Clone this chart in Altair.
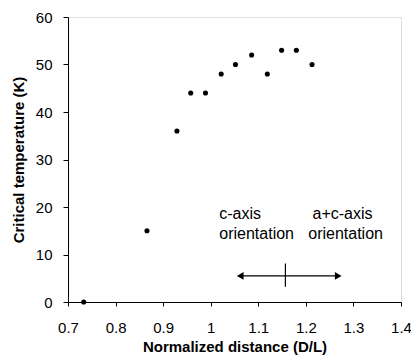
import altair as alt
import pandas as pd

# Data
distance = [0.733, 0.866, 0.929, 0.958, 0.989, 1.022, 1.052, 1.086, 1.119, 1.149, 1.180, 1.213]
tc = [0, 15, 36, 44, 44, 48, 50, 52, 48, 53, 53, 50]

x_ticks = [0.7, 0.8, 0.9, 1.0, 1.1, 1.2, 1.3, 1.4]
y_ticks = [0, 10, 20, 30, 40, 50, 60]

arrow_x = [1.062, 1.268]
arrow_y = 5.5
divider_x = 1.157
divider_y = [3.2, 8.1]

label_text = ["c-axis", "orientation", "a+c-axis", "orientation"]
label_x = [1.018, 1.018, 1.214, 1.205]
label_y = [17.4, 13.2, 17.4, 13.2]

FONT = "Liberation Sans"

df = pd.DataFrame({"d": distance, "tc": tc})

xs = alt.Scale(domain=[0.7, 1.4], nice=False, zero=False)
ys = alt.Scale(domain=[0, 60], nice=False)

xaxis = alt.Axis(values=x_ticks, title="Normalized distance (D/L)", grid=False,
                 labelExpr="datum.value == 1 ? '1' : format(datum.value, '.1f')",
                 tickSize=4, labelPadding=14, titlePadding=4,
                 labelFontSize=15, titleFontSize=15, titleFontWeight="bold",
                 labelFont=FONT, titleFont=FONT, domainColor="black", tickColor="black",
                 labelColor="black", titleColor="black", labelFlush=False)
yaxis = alt.Axis(values=y_ticks, title="Critical temperature (K)", grid=False,
                 tickSize=5, labelPadding=11, titlePadding=9,
                 labelFontSize=15, titleFontSize=15, titleFontWeight="bold",
                 labelFont=FONT, titleFont=FONT, domainColor="black", tickColor="black",
                 labelColor="black", titleColor="black")

points = alt.Chart(df).mark_circle(size=26, color="black", opacity=1).encode(
    x=alt.X("d:Q", scale=xs, axis=xaxis),
    y=alt.Y("tc:Q", scale=ys, axis=yaxis),
)

arrow_df = pd.DataFrame({"x1": [arrow_x[0]], "x2": [arrow_x[1]], "y": [arrow_y]})
arrow_line = alt.Chart(arrow_df).mark_rule(color="black", strokeWidth=1.2).encode(
    x=alt.X("x1:Q", scale=xs), x2="x2:Q", y=alt.Y("y:Q", scale=ys))

heads_df = pd.DataFrame({"x": arrow_x, "y": [arrow_y, arrow_y],
                         "shape": ["triangle-left", "triangle-right"]})
heads = alt.Chart(heads_df).mark_point(filled=True, size=60, color="black", opacity=1).encode(
    x=alt.X("x:Q", scale=xs), y=alt.Y("y:Q", scale=ys),
    shape=alt.Shape("shape:N", scale=None))

div_df = pd.DataFrame({"x": [divider_x], "y1": [divider_y[0]], "y2": [divider_y[1]]})
divider = alt.Chart(div_df).mark_rule(color="black", strokeWidth=1.2).encode(
    x=alt.X("x:Q", scale=xs), y=alt.Y("y1:Q", scale=ys), y2="y2:Q")

lab_df = pd.DataFrame({"t": label_text, "x": label_x, "y": label_y})
labels = alt.Chart(lab_df).mark_text(align="left", baseline="alphabetic", fontSize=16,
                                     font=FONT, color="black").encode(
    x=alt.X("x:Q", scale=xs), y=alt.Y("y:Q", scale=ys), text="t:N")

chart = alt.layer(points, arrow_line, heads, divider, labels).properties(
    width=333, height=285,
    autosize=alt.AutoSizeParams(type="none"),
    padding={"left": 60, "top": 9, "right": 10, "bottom": 53},
).configure_view(stroke="black", strokeWidth=1.2).configure(background="white")

chart.save("out.html", embed_options={"renderer": "svg", "actions": False})
